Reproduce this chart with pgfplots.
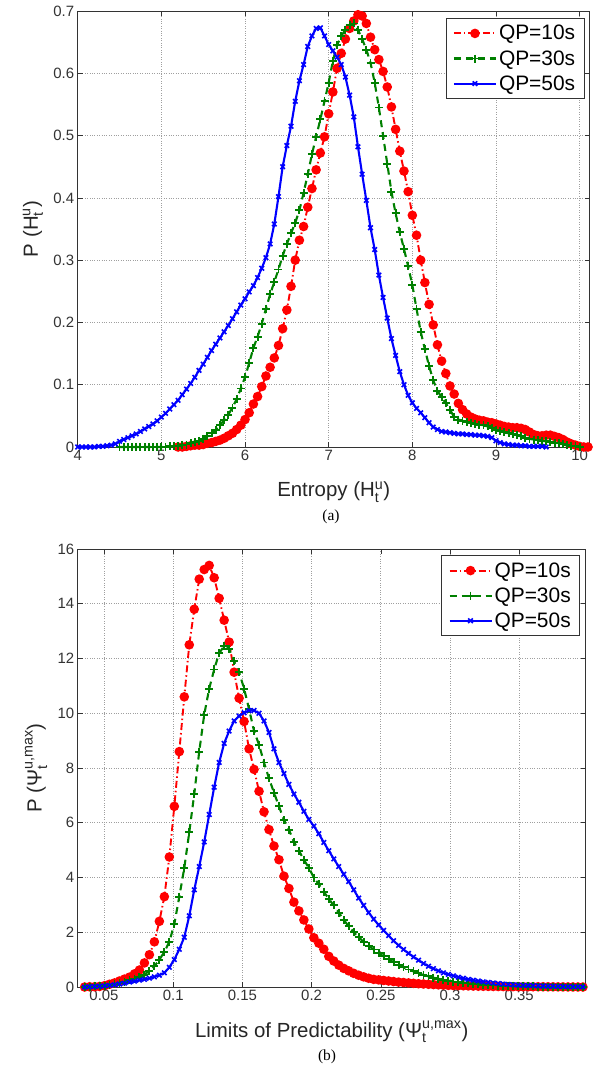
\documentclass[border=0pt]{standalone}
\usepackage{fontspec}
\setmainfont{Liberation Sans}
\newfontfamily\seriffont{Liberation Serif}
\usepackage{amsmath}
\usepackage{pgfplots}
\usepackage{pgfplotstable}
\pgfplotsset{compat=1.18}
\definecolor{mred}{RGB}{255,0,0}
\definecolor{mgreen}{RGB}{0,128,0}
\definecolor{mblue}{RGB}{0,0,255}

\pgfplotstableread{
x y
4.00 0
4.05 0
4.10 0
4.15 0
4.20 0
4.25 0.001
4.30 0.001
4.35 0.002
4.40 0.003
4.45 0.005
4.50 0.009
4.55 0.012
4.60 0.015
4.65 0.018
4.70 0.021
4.75 0.025
4.80 0.029
4.85 0.033
4.90 0.037
4.95 0.042
5.00 0.048
5.05 0.054
5.10 0.061
5.15 0.068
5.20 0.075
5.25 0.084
5.30 0.093
5.35 0.102
5.40 0.112
5.45 0.123
5.50 0.133
5.55 0.144
5.60 0.155
5.65 0.165
5.70 0.175
5.75 0.185
5.80 0.195
5.85 0.206
5.90 0.217
5.95 0.228
6.00 0.238
6.05 0.249
6.10 0.259
6.15 0.272
6.20 0.287
6.25 0.304
6.30 0.326
6.35 0.358
6.40 0.402
6.45 0.450
6.50 0.484
6.55 0.515
6.60 0.555
6.65 0.588
6.70 0.614
6.75 0.643
6.80 0.660
6.85 0.672
6.90 0.673
6.95 0.660
7.00 0.646
7.05 0.636
7.10 0.626
7.15 0.614
7.20 0.594
7.25 0.565
7.30 0.530
7.35 0.482
7.40 0.438
7.45 0.396
7.50 0.352
7.55 0.317
7.60 0.276
7.65 0.240
7.70 0.207
7.75 0.174
7.80 0.147
7.85 0.121
7.90 0.100
7.95 0.083
8.00 0.071
8.05 0.062
8.10 0.055
8.15 0.047
8.20 0.039
8.25 0.032
8.30 0.028
8.35 0.025
8.40 0.024
8.45 0.023
8.50 0.022
8.55 0.021
8.60 0.021
8.65 0.020
8.70 0.020
8.75 0.019
8.80 0.019
8.85 0.018
8.90 0.017
8.95 0.015
9.00 0.010
9.05 0.007
9.10 0.005
9.15 0.004
9.20 0.003
9.25 0.003
9.30 0.002
9.35 0.002
9.40 0.001
9.45 0.001
9.50 0.001
9.55 0.001
9.60 0.000
}\topblue

\pgfplotstableread{
x y
4.50 0
4.55 0
4.60 0
4.65 0
4.70 0
4.75 0
4.80 0
4.85 0
4.90 0
4.95 0
5.00 0
5.05 0
5.10 0.001
5.15 0.001
5.20 0.002
5.25 0.003
5.30 0.004
5.35 0.006
5.40 0.008
5.45 0.010
5.50 0.013
5.55 0.017
5.60 0.022
5.65 0.028
5.70 0.035
5.75 0.043
5.80 0.052
5.85 0.063
5.90 0.077
5.95 0.094
6.00 0.112
6.05 0.135
6.10 0.159
6.15 0.177
6.20 0.198
6.25 0.222
6.30 0.245
6.35 0.265
6.40 0.285
6.45 0.307
6.50 0.326
6.55 0.343
6.60 0.360
6.65 0.380
6.70 0.408
6.75 0.438
6.80 0.470
6.85 0.498
6.90 0.526
6.95 0.555
7.00 0.585
7.05 0.620
7.10 0.645
7.15 0.660
7.20 0.670
7.25 0.678
7.30 0.680
7.35 0.670
7.40 0.655
7.45 0.638
7.50 0.617
7.55 0.585
7.60 0.545
7.65 0.500
7.70 0.455
7.75 0.410
7.80 0.375
7.85 0.345
7.90 0.318
7.95 0.290
8.00 0.260
8.05 0.222
8.10 0.185
8.15 0.157
8.20 0.130
8.25 0.107
8.30 0.090
8.35 0.080
8.40 0.070
8.45 0.060
8.50 0.048
8.55 0.044
8.60 0.042
8.65 0.040
8.70 0.039
8.75 0.037
8.80 0.036
8.85 0.035
8.90 0.033
8.95 0.031
9.00 0.028
9.05 0.026
9.10 0.024
9.15 0.022
9.20 0.021
9.25 0.019
9.30 0.017
9.35 0.015
9.40 0.013
9.45 0.012
9.50 0.011
9.55 0.010
9.60 0.009
9.65 0.008
9.70 0.007
9.75 0.006
9.80 0.005
9.85 0.003
9.90 0.002
9.95 0.001
10.00 0.000
}\topgreen

\pgfplotstableread{
x y
5.20 0
5.25 0
5.30 0.001
5.35 0.002
5.40 0.003
5.45 0.003
5.50 0.004
5.55 0.006
5.60 0.007
5.65 0.009
5.70 0.011
5.75 0.014
5.80 0.018
5.85 0.022
5.90 0.028
5.95 0.035
6.00 0.044
6.05 0.055
6.10 0.069
6.15 0.081
6.20 0.097
6.25 0.114
6.30 0.128
6.35 0.143
6.40 0.163
6.45 0.190
6.50 0.220
6.55 0.258
6.60 0.300
6.65 0.332
6.70 0.354
6.75 0.385
6.80 0.415
6.85 0.445
6.90 0.472
6.95 0.498
7.00 0.535
7.05 0.570
7.10 0.608
7.15 0.632
7.20 0.655
7.25 0.672
7.30 0.684
7.35 0.694
7.40 0.692
7.45 0.680
7.50 0.658
7.55 0.638
7.60 0.622
7.65 0.603
7.70 0.578
7.75 0.546
7.80 0.510
7.85 0.475
7.90 0.443
7.95 0.410
8.00 0.372
8.05 0.340
8.10 0.300
8.15 0.264
8.20 0.229
8.25 0.196
8.30 0.164
8.35 0.138
8.40 0.118
8.45 0.098
8.50 0.085
8.55 0.070
8.60 0.060
8.65 0.053
8.70 0.048
8.75 0.045
8.80 0.043
8.85 0.042
8.90 0.040
8.95 0.039
9.00 0.037
9.05 0.035
9.10 0.033
9.15 0.032
9.20 0.031
9.25 0.031
9.30 0.030
9.35 0.028
9.40 0.024
9.45 0.020
9.50 0.018
9.55 0.018
9.60 0.019
9.65 0.019
9.70 0.017
9.75 0.015
9.80 0.012
9.85 0.008
9.90 0.005
9.95 0.003
10.00 0.001
10.05 0
10.10 0
}\topred

\pgfplotstableread{
x r g b
0.0360 0.00 0.00 0.00
0.0396 0.01 0.01 0.01
0.0432 0.01 0.02 0.02
0.0468 0.02 0.03 0.03
0.0504 0.05 0.05 0.04
0.0540 0.10 0.08 0.06
0.0576 0.15 0.11 0.08
0.0612 0.22 0.15 0.11
0.0648 0.29 0.19 0.14
0.0684 0.36 0.25 0.18
0.0720 0.48 0.31 0.21
0.0756 0.62 0.37 0.25
0.0792 0.88 0.45 0.28
0.0828 1.18 0.60 0.32
0.0864 1.65 0.76 0.37
0.0900 2.40 1.00 0.43
0.0936 3.30 1.28 0.52
0.0972 4.75 1.65 0.72
0.1008 6.60 2.30 1.00
0.1044 8.60 3.30 1.38
0.1080 10.60 4.35 1.82
0.1116 12.50 5.65 2.60
0.1152 13.80 7.05 3.55
0.1188 14.90 8.60 4.40
0.1224 15.25 9.95 5.30
0.1260 15.40 10.90 6.30
0.1296 14.95 11.60 7.30
0.1332 14.20 12.20 8.20
0.1368 13.40 12.45 8.90
0.1404 12.60 12.35 9.35
0.1440 11.50 11.90 9.72
0.1476 10.55 11.50 9.90
0.1512 9.70 10.90 10.02
0.1548 8.70 10.15 10.10
0.1584 7.95 9.35 10.10
0.1620 7.15 8.85 10.00
0.1656 6.40 8.20 9.72
0.1692 5.75 7.62 9.30
0.1728 5.15 7.10 8.70
0.1764 4.65 6.60 8.20
0.1800 4.05 6.10 7.80
0.1836 3.60 5.75 7.40
0.1872 3.10 5.30 7.05
0.1908 2.78 4.98 6.75
0.1944 2.45 4.65 6.42
0.1980 2.12 4.35 6.12
0.2016 1.80 4.00 5.88
0.2052 1.60 3.75 5.60
0.2088 1.38 3.48 5.28
0.2124 1.12 3.22 4.98
0.2160 0.95 2.98 4.68
0.2196 0.80 2.72 4.40
0.2232 0.68 2.45 4.12
0.2268 0.59 2.22 3.85
0.2304 0.50 2.00 3.55
0.2340 0.43 1.82 3.25
0.2376 0.37 1.65 2.98
0.2412 0.32 1.50 2.72
0.2448 0.28 1.37 2.48
0.2484 0.26 1.24 2.27
0.2520 0.24 1.12 2.07
0.2556 0.22 1.01 1.88
0.2592 0.20 0.91 1.69
0.2628 0.18 0.81 1.52
0.2664 0.165 0.72 1.37
0.2700 0.15 0.64 1.23
0.2736 0.135 0.57 1.10
0.2772 0.12 0.50 0.98
0.2808 0.11 0.44 0.86
0.2844 0.10 0.39 0.76
0.2880 0.09 0.34 0.67
0.2916 0.08 0.30 0.59
0.2952 0.07 0.26 0.52
0.2988 0.06 0.23 0.46
0.3024 0.055 0.20 0.41
0.3060 0.05 0.17 0.36
0.3096 0.045 0.15 0.32
0.3132 0.04 0.13 0.28
0.3168 0.035 0.115 0.25
0.3204 0.03 0.10 0.22
0.3240 0.027 0.088 0.19
0.3276 0.024 0.075 0.17
0.3312 0.021 0.065 0.15
0.3348 0.019 0.055 0.13
0.3384 0.017 0.048 0.11
0.3420 0.015 0.042 0.095
0.3456 0.014 0.036 0.08
0.3492 0.013 0.031 0.07
0.3528 0.012 0.027 0.06
0.3564 0.011 0.023 0.055
0.3600 0.010 0.020 0.05
0.3636 0.009 0.017 0.04
0.3672 0.008 0.014 0.035
0.3708 0.007 0.012 0.03
0.3744 0.006 0.010 0.025
0.3780 0.005 0.008 0.02
0.3816 0.004 0.006 0.015
0.3852 0.003 0.004 0.012
0.3888 0.002 0.003 0.01
0.3924 0.001 0.001 0.007
0.3960 0.000 0.000 0.005
}\bottomdata

\pgfplotsset{
  mystyle/.style={
    scale only axis,
    clip=false,
    tick align=inside,
    major tick length=5bp,
    grid=major,
    grid style={dotted, gray!75, line width=0.7bp},
    axis line style={gray!40!black, line width=0.8bp},
    every tick/.style={gray!40!black, line width=0.6bp},
    tick label style={font=\fontsize{15}{18}\selectfont, color=black!80},
    /pgf/number format/assume math mode=true,
    label style={font=\fontsize{20.5}{24}\selectfont, color=black!85},
    legend style={font=\fontsize{21}{24}\selectfont, draw=gray!40!black,
      line width=0.8bp, inner xsep=7bp, inner ysep=5bp, row sep=5bp,
      cells={anchor=west}},
    legend image code/.code={\draw[mark repeat=2,mark phase=2] plot coordinates {(0bp,0bp) (21bp,0bp) (42bp,0bp)};},
  },
  redS/.style={color=mred, line width=1.9bp, dash pattern=on 7bp off 3bp on 1.5bp off 3bp,
    mark=*, mark size=3.8bp, mark options={solid, fill=mred}},
  greenS/.style={color=mgreen, line width=2.1bp, dash pattern=on 7bp off 5bp,
    mark=+, mark size=4bp, mark options={solid, line width=1.9bp}},
  blueS/.style={color=mblue, line width=2.1bp, solid,
    mark=x, mark size=3.2bp, mark options={solid, line width=1.6bp}},
}

\begin{document}
\begin{tikzpicture}
\path[use as bounding box] (0,0) rectangle (600bp,-1068bp);

\begin{axis}[mystyle,
  at={(77.7bp,-11bp)}, anchor=north west,
  width=512bp, height=436bp,
  xmin=4, xmax=10.12, ymin=0, ymax=0.7,
  xtick={4,5,6,7,8,9,10},
  ytick={0,0.1,0.2,0.3,0.4,0.5,0.6,0.7},
  yticklabels={0,0.1,0.2,0.3,0.4,0.5,0.6,0.7},
  xlabel={Entropy (H$^{\text{u}}_{\text{t}}$)},
  ylabel={P (H$^{\text{u}}_{\text{t}}$)},
  xlabel style={at={(axis description cs:0.5,0)}, anchor=base, yshift=-50bp},
  ylabel style={at={(axis description cs:-0.078,0.5)}, anchor=base},
  legend style={at={(0.99,0.984)}, anchor=north east},
]
\addplot[redS] table[x=x,y=y] {\topred};
\addlegendentry{QP=10s}
\addplot[greenS] table[x=x,y=y] {\topgreen};
\addlegendentry{QP=30s}
\addplot[blueS] table[x=x,y=y] {\topblue};
\addlegendentry{QP=50s}
\end{axis}
\node[font=\seriffont\fontsize{15.5}{18}\selectfont] at (331bp,-517bp) {(a)};

\begin{axis}[mystyle,
  at={(77.7bp,-549bp)}, anchor=north west,
  width=508bp, height=438bp,
  xmin=0.031, xmax=0.398, ymin=0, ymax=16,
  xtick={0.05,0.1,0.15,0.2,0.25,0.3,0.35},
  xticklabels={0.05,0.1,0.15,0.2,0.25,0.3,0.35},
  ytick={0,2,4,6,8,10,12,14,16},
  xlabel={Limits of Predictability (Ψ$^{\text{u,max}}_{\text{t}}$)},
  ylabel={P (Ψ$^{\text{u,max}}_{\text{t}}$)},
  xlabel style={at={(axis description cs:0.5,0)}, anchor=base, yshift=-50bp},
  ylabel style={at={(axis description cs:-0.071,0.5)}, anchor=base},
  legend style={at={(0.989,0.986)}, anchor=north east},
]
\addplot[redS] table[x=x,y=r] {\bottomdata};
\addlegendentry{QP=10s}
\addplot[greenS] table[x=x,y=g] {\bottomdata};
\addlegendentry{QP=30s}
\addplot[blueS] table[x=x,y=b] {\bottomdata};
\addlegendentry{QP=50s}
\end{axis}
\node[font=\seriffont\fontsize{15.5}{18}\selectfont] at (327bp,-1057bp) {(b)};
\end{tikzpicture}
\end{document}
